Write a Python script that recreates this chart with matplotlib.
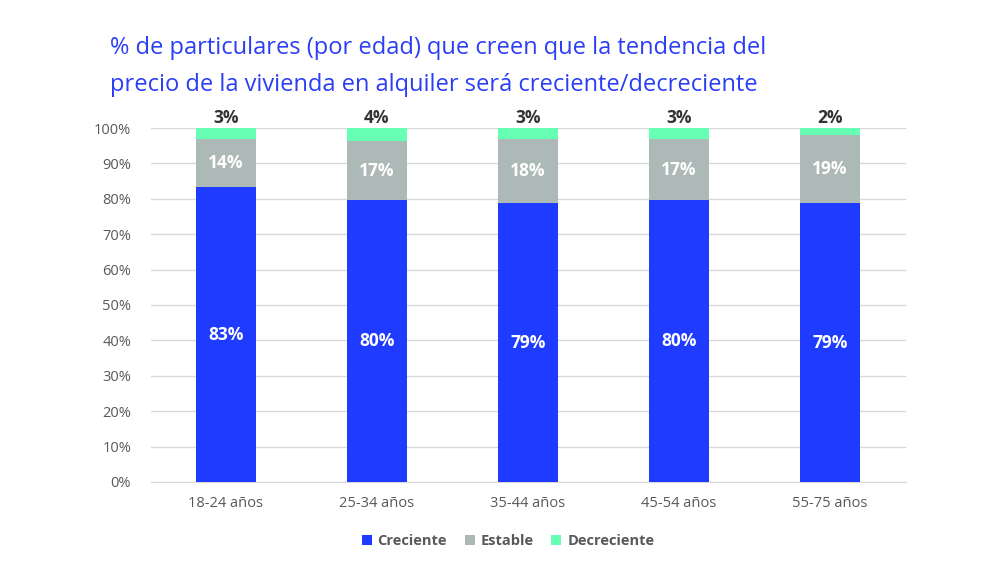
import matplotlib
matplotlib.use("Agg")
import matplotlib.pyplot as plt
import numpy as np

plt.rcParams['font.family'] = ['Open Sans', 'DejaVu Sans']

categories = ["18-24 años", "25-34 años", "35-44 años", "45-54 años", "55-75 años"]
creciente = [83.2, 79.6, 78.8, 79.6, 78.8]
estable = [13.6, 16.6, 18.1, 17.3, 19.1]
decreciente = [3.2, 3.8, 3.1, 3.1, 2.1]
series_names = ["Creciente", "Estable", "Decreciente"]
yticks = [0, 10, 20, 30, 40, 50, 60, 70, 80, 90, 100]
title = "% de particulares (por edad) que creen que la tendencia del\nprecio de la vivienda en alquiler será creciente/decreciente"

colors = ["#1E3BFF", "#ADB9B7", "#66FFB4"]

fig = plt.figure(figsize=(10, 5.8), dpi=100)
ax = fig.add_axes([0.1505, 0.169, 0.755, 0.6103])

x = np.arange(len(categories))
w = 0.40
c = np.array(creciente)
e = np.array(estable)
d = np.array(decreciente)
ax.bar(x, c, w, color=colors[0], label=series_names[0], zorder=3)
ax.bar(x, e, w, bottom=c, color=colors[1], label=series_names[1], zorder=3)
ax.bar(x, d, w, bottom=c + e, color=colors[2], label=series_names[2], zorder=3)

for i in range(len(categories)):
    ax.text(x[i], c[i] / 2, f"{c[i]:.0f}%", ha='center', va='center',
            color='white', fontsize=12.5, fontweight='bold', zorder=4)
    ax.text(x[i], c[i] + e[i] / 2, f"{e[i]:.0f}%", ha='center', va='center',
            color='white', fontsize=12.5, fontweight='bold', zorder=4)
    ax.text(x[i], c[i] + e[i] + d[i] + 0.4, f"{d[i]:.0f}%", ha='center', va='bottom',
            color='#333333', fontsize=12.5, fontweight='bold', zorder=4)

ax.set_xlim(-0.5, len(categories) - 0.5)
ax.set_ylim(0, 100)
ax.set_yticks(yticks)
ax.set_yticklabels([f"{t}%" for t in yticks], color='#595959', fontsize=10.5)
ax.set_xticks(x)
ax.set_xticklabels(categories, color='#595959', fontsize=10.5)
ax.tick_params(axis='both', length=0)
ax.tick_params(axis='y', pad=14)
ax.tick_params(axis='x', pad=10)
ax.grid(axis='y', color='#D9D9D9', linewidth=1, zorder=0)
for s in ['top', 'right', 'left']:
    ax.spines[s].set_visible(False)
ax.spines['bottom'].set_color('#D9D9D9')

fig.text(0.11, 0.885, title, color='#2B3EF5', fontsize=17, ha='left', va='center',
         linespacing=1.75)

leg = fig.legend(loc='center', bbox_to_anchor=(0.508, 0.067), ncol=3, frameon=False,
                 fontsize=10.5, handlelength=0.7, handleheight=0.7, handletextpad=0.4,
                 columnspacing=1.2)
for t in leg.get_texts():
    t.set_color('#595959')
    t.set_fontweight('bold')

fig.savefig("out.png", dpi=100)
